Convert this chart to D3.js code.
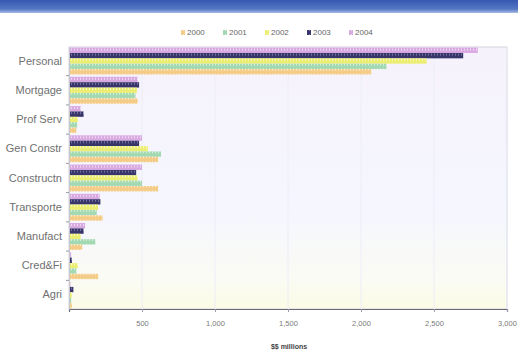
<!DOCTYPE html>
<html>
<head>
<meta charset="utf-8">
<script src="https://cdn.jsdelivr.net/npm/d3@7/dist/d3.min.js"></script>
<style>
  html, body { margin: 0; padding: 0; background: #fff; }
  svg { display: block; font-family: "Liberation Sans", Arial, sans-serif; }
</style>
</head>
<body>
<svg id="chart" width="518" height="352"></svg>
<script>
// Loan balances by sector, $ millions
const categories = ["Personal", "Mortgage", "Prof Serv", "Gen Constr", "Constructn", "Transporte", "Manufact", "Cred&Fi", "Agri"];
const years = ["2000", "2001", "2002", "2003", "2004"];
const v2000 = [2070, 470, 50, 610, 610, 230, 90, 200, 20];
const v2001 = [2175, 455, 55, 630, 500, 190, 180, 50, 15];
const v2002 = [2450, 465, 60, 540, 470, 200, 80, 60, 20];
const v2003 = [2700, 480, 100, 480, 460, 215, 100, 20, 30];
const v2004 = [2800, 470, 80, 500, 500, 210, 110, 15, 10];
const xTicks = [500, 1000, 1500, 2000, 2500, 3000];
const xTickLabels = ["500", "1,000", "1,500", "2,000", "2,500", "3,000"];

const seriesValues = { "2000": v2000, "2001": v2001, "2002": v2002, "2003": v2003, "2004": v2004 };
const seriesColor = {
  "2000": { base: "#f4cc88", stripe: "#fae6c0" },
  "2001": { base: "#a2d9b2", stripe: "#d4efdc" },
  "2002": { base: "#ecee74", stripe: "#f8f9c4" },
  "2003": { base: "#37356a", stripe: "#76749e" },
  "2004": { base: "#d9aae2", stripe: "#efdaf2" }
};

const svg = d3.select("#chart");
const W = 518, H = 352;
const plot = { left: 69, right: 507, top: 47, bottom: 309 };

const defs = svg.append("defs");

// header band
const hg = defs.append("linearGradient").attr("id", "hdr").attr("x1", 0).attr("y1", 0).attr("x2", 0).attr("y2", 1);
hg.append("stop").attr("offset", "0%").attr("stop-color", "#3658b0");
hg.append("stop").attr("offset", "70%").attr("stop-color", "#5577c4");
hg.append("stop").attr("offset", "100%").attr("stop-color", "#a8bbe4");
svg.append("rect").attr("x", 0).attr("y", 0).attr("width", W).attr("height", 13).attr("fill", "url(#hdr)");

// plot background
const pg = defs.append("linearGradient").attr("id", "plotbg").attr("x1", 0).attr("y1", 0).attr("x2", 0).attr("y2", 1);
pg.append("stop").attr("offset", "0%").attr("stop-color", "#f6f2fc");
pg.append("stop").attr("offset", "60%").attr("stop-color", "#f5f6ff");
pg.append("stop").attr("offset", "88%").attr("stop-color", "#fafbf4");
pg.append("stop").attr("offset", "100%").attr("stop-color", "#fbfbe6");

// striped fills for each series
years.forEach(y => {
  const p = defs.append("pattern").attr("id", "pat" + y)
    .attr("patternUnits", "userSpaceOnUse").attr("width", 3).attr("height", 5);
  p.append("rect").attr("width", 3).attr("height", 5).attr("fill", seriesColor[y].base);
  p.append("rect").attr("x", 2).attr("y", 1).attr("width", 1).attr("height", 2).attr("fill", seriesColor[y].stripe);
});

const x = d3.scaleLinear().domain([0, 3000]).range([plot.left, plot.right]);
const y0 = d3.scaleBand().domain(categories).range([plot.top, plot.bottom]).paddingInner(0.08).paddingOuter(0.02);
const order = years.slice().reverse(); // 2004 on top within each group
const y1 = d3.scaleBand().domain(order).range([0, y0.bandwidth()]).padding(0);

svg.append("rect")
  .attr("x", plot.left).attr("y", plot.top)
  .attr("width", plot.right - plot.left).attr("height", plot.bottom - plot.top)
  .attr("fill", "url(#plotbg)").attr("stroke", "#d4d4dc").attr("stroke-width", 1);

// faint vertical gridlines
svg.append("g").selectAll("line").data(xTicks).join("line")
  .attr("x1", d => x(d)).attr("x2", d => x(d))
  .attr("y1", plot.top).attr("y2", plot.bottom)
  .attr("stroke", "#eceef8").attr("stroke-width", 1);

// bars
const groups = svg.append("g").selectAll("g").data(categories).join("g")
  .attr("transform", d => `translate(0,${y0(d)})`);
groups.selectAll("rect").data((c, i) => order.map(yr => ({ yr, v: seriesValues[yr][i] }))).join("rect")
  .attr("x", x(0))
  .attr("y", d => y1(d.yr))
  .attr("width", d => x(d.v) - x(0))
  .attr("height", y1.bandwidth())
  .attr("fill", d => `url(#pat${d.yr})`);

// x axis
const xAxis = d3.axisBottom(x).tickValues(xTicks).tickFormat((d, i) => xTickLabels[i]).tickSize(3).tickPadding(9);
const gx = svg.append("g").attr("transform", `translate(0,${plot.bottom})`).call(xAxis);
gx.select(".domain").attr("stroke", "#6a6a78").attr("stroke-width", 1.2);
gx.selectAll(".tick line").attr("stroke", "#9a9aa8");
gx.selectAll("text").attr("fill", "#7a7a7a").attr("font-size", 7.5);

// y axis
const yAxis = d3.axisLeft(y0).tickSize(0).tickPadding(7);
const gy = svg.append("g").attr("transform", `translate(${plot.left},0)`).call(yAxis);
gy.select(".domain").attr("stroke", "#c8c8d0");
gy.selectAll("text").attr("fill", "#707070").attr("font-size", 11);
// small separators between categories
svg.append("g").selectAll("line").data(categories.slice(1)).join("line")
  .attr("x1", plot.left - 3).attr("x2", plot.left)
  .attr("y1", d => y0(d) - y0.step() * y0.paddingInner() / 2)
  .attr("y2", d => y0(d) - y0.step() * y0.paddingInner() / 2)
  .attr("stroke", "#9a9aa8");

// axis title
svg.append("text").attr("x", 289).attr("y", 349).attr("text-anchor", "middle")
  .attr("font-size", 7).attr("font-weight", "bold").attr("fill", "#444").text("$$ millions");

// legend
const leg = svg.append("g").attr("transform", "translate(181,33)");
const legItems = leg.selectAll("g").data(years).join("g")
  .attr("transform", (d, i) => `translate(${i * 42},0)`);
legItems.append("rect").attr("x", 0).attr("y", -3).attr("width", 4).attr("height", 5)
  .attr("fill", d => `url(#pat${d})`);
legItems.append("text").attr("x", 6).attr("y", 2).attr("font-size", 8).attr("fill", "#666").text(d => d);
</script>
</body>
</html>
